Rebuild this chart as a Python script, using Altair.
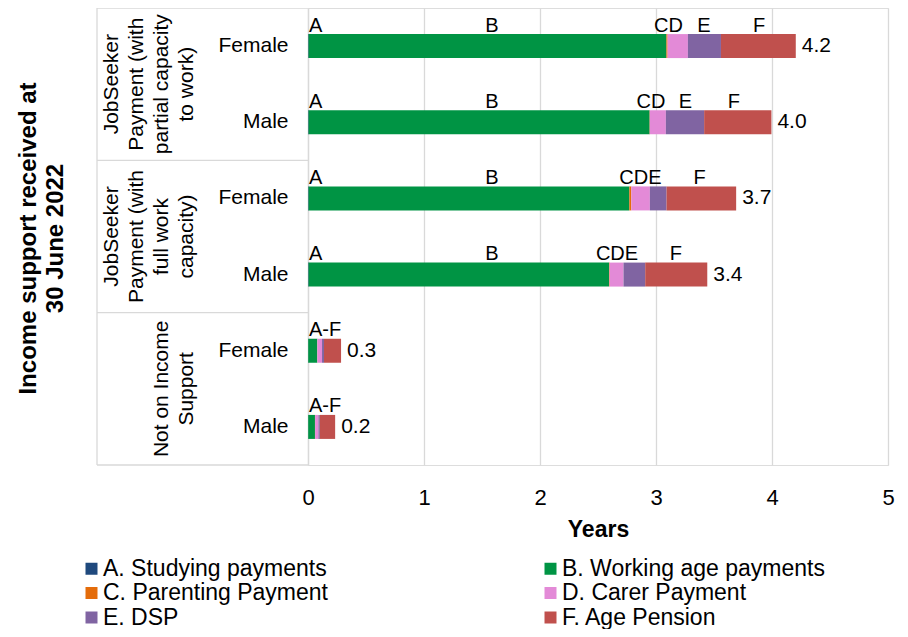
import altair as alt
import pandas as pd

FONT = "Liberation Sans"

groups = [
    "JobSeeker Payment (with partial capacity to work)",
    "JobSeeker Payment (with full work capacity)",
    "Not on Income Support",
]
group_lines = [
    "JobSeeker|Payment (with|partial capacity|to work)",
    "JobSeeker|Payment (with|full work|capacity)",
    "Not on Income|Support",
]
sexes = ["Female", "Male"]
series = [
    "A. Studying payments",
    "B. Working age payments",
    "C. Parenting Payment",
    "D. Carer Payment",
    "E. DSP",
    "F. Age Pension",
]
colors = ["#1F497D", "#009444", "#E46C0A", "#E38AD7", "#8064A2", "#C0504D"]

# rows: partial F, partial M, full F, full M, none F, none M  (years)
A = [0.005, 0.005, 0.005, 0.005, 0.002, 0.002]
B = [3.085, 2.940, 2.765, 2.590, 0.078, 0.058]
C = [0.010, 0.002, 0.017, 0.005, 0.001, 0.001]
D = [0.175, 0.138, 0.160, 0.120, 0.040, 0.029]
E = [0.285, 0.330, 0.144, 0.187, 0.017, 0.012]
F = [0.645, 0.580, 0.600, 0.535, 0.147, 0.132]

# segment letter labels (text, position in years) per row
label_text = [
    ["A", "B", "CD", "E", "F"],
    ["A", "B", "CD", "E", "F"],
    ["A", "B", "CDE", "F"],
    ["A", "B", "CDE", "F"],
    ["A-F"],
    ["A-F"],
]
label_pos = [
    [0.0, 1.586, 3.108, 3.414, 3.888],
    [0.0, 1.586, 2.957, 3.254, 3.672],
    [0.0, 1.586, 2.866, 3.375],
    [0.0, 1.586, 2.664, 3.172],
    [0.0],
    [0.0],
]

keys = [f"{g}|{s}" for g in groups for s in sexes]
vals = [A, B, C, D, E, F]

rows = []
for i, k in enumerate(keys):
    for j, s in enumerate(series):
        rows.append({"key": k, "series": s, "order": j, "value": vals[j][i]})
df = pd.DataFrame(rows)

lab_rows = []
for i, k in enumerate(keys):
    for t, p in zip(label_text[i], label_pos[i]):
        lab_rows.append({"key": k, "label": t, "pos": p, "al": "left" if p == 0 else "center"})
lab = pd.DataFrame(lab_rows)

grp_df = pd.DataFrame({
    "key": [f"{g}|Male" for g in groups],
    "label": group_lines,
    "n": [len(s.split("|")) for s in group_lines],
})
top_df = pd.DataFrame({"key": [f"{g}|Female" for g in groups]})
bot_df = pd.DataFrame({"key": [keys[-1]]})

# legend laid out column-major in 2 columns -> A,C,E | B,D,F
legend_order = [series[0], series[2], series[4], series[1], series[3], series[5]]
legend_colors = [colors[0], colors[2], colors[4], colors[1], colors[3], colors[5]]

W, H = 580, 457
xscale = alt.Scale(domain=[0, 5], nice=False, zero=True)
yscale = alt.Scale(domain=keys, paddingInner=0, paddingOuter=0)
GRID = "#D9D9D9"

xaxis = alt.Axis(
    title="Years",
    values=[0, 1, 2, 3, 4, 5],
    format="d",
    grid=True,
    gridColor=GRID,
    gridWidth=1.3,
    domain=False,
    ticks=False,
    labelFlush=False,
    labelFontSize=22,
    labelPadding=22,
    labelColor="#000",
    titleFontSize=23,
    titleFontWeight="bold",
    titleColor="#000",
    titlePadding=10,
)
yaxis = alt.Axis(
    title=None,
    labelExpr="split(datum.value, '|')[1]",
    ticks=False,
    domain=True,
    domainColor=GRID,
    domainWidth=1.3,
    labelFontSize=21,
    labelPadding=20,
    labelColor="#000",
    grid=False,
)

bars = alt.Chart(df).mark_bar(size=24).encode(
    x=alt.X("value:Q", stack="zero", scale=xscale, axis=xaxis),
    y=alt.Y("key:N", scale=yscale, sort=keys, axis=yaxis),
    color=alt.Color(
        "series:N",
        scale=alt.Scale(domain=legend_order, range=legend_colors),
        legend=alt.Legend(
            title=None,
            orient="none",
            legendX=-228,
            legendY=549,
            columns=2,
            symbolType="square",
            symbolSize=144,
            symbolStrokeWidth=0,
            labelFontSize=23,
            labelColor="#000",
            labelLimit=500,
            labelOffset=0,
            columnPadding=210,
            rowPadding=0.5,
            padding=0,
        ),
    ),
    order=alt.Order("order:Q"),
)

ydef = dict(scale=yscale, sort=keys, axis=yaxis)

totals = alt.Chart(df).mark_text(
    align="left", baseline="middle", dx=6, fontSize=21, font=FONT, color="#000"
).encode(
    x=alt.X("sum(value):Q", scale=xscale, axis=xaxis),
    y=alt.Y("key:N", **ydef),
    text=alt.Text("sum(value):Q", format=".1f"),
)

lab_left = alt.Chart(lab).transform_filter("datum.al == 'left'").mark_text(
    align="left", baseline="alphabetic", dy=-14.5, dx=1, fontSize=20, font=FONT, color="#000"
).encode(
    x=alt.X("pos:Q", scale=xscale, axis=xaxis),
    y=alt.Y("key:N", **ydef),
    text="label:N",
)
lab_center = alt.Chart(lab).transform_filter("datum.al == 'center'").mark_text(
    align="center", baseline="alphabetic", dy=-14.5, fontSize=20, font=FONT, color="#000"
).encode(
    x=alt.X("pos:Q", scale=xscale, axis=xaxis),
    y=alt.Y("key:N", **ydef),
    text="label:N",
)

grp4 = alt.Chart(grp_df).transform_filter("datum.n == 4").mark_text(
    angle=270, align="center", baseline="middle", lineBreak="|", lineHeight=25,
    fontSize=21, font=FONT, color="#000"
).encode(
    x=alt.value(-196),
    y=alt.Y("key:N", bandPosition=0, **ydef),
    text="label:N",
)
grp2 = alt.Chart(grp_df).transform_filter("datum.n == 2").mark_text(
    angle=270, align="center", baseline="middle", lineBreak="|", lineHeight=25,
    fontSize=21, font=FONT, color="#000"
).encode(
    x=alt.value(-146),
    y=alt.Y("key:N", bandPosition=0, **ydef),
    text="label:N",
)

top_rules = alt.Chart(top_df).mark_rule(color=GRID, strokeWidth=1.3).encode(
    x=alt.value(-211), x2=alt.value(0),
    y=alt.Y("key:N", bandPosition=0, **ydef),
)
bot_rule = alt.Chart(bot_df).mark_rule(color=GRID, strokeWidth=1.3).encode(
    x=alt.value(-211), x2=alt.value(0),
    y=alt.Y("key:N", bandPosition=1, **ydef),
)
left_rule = alt.Chart(bot_df).mark_rule(color=GRID, strokeWidth=1.3).encode(
    x=alt.value(-211), y=alt.value(0), y2=alt.value(H),
)

ytitle = alt.Chart(pd.DataFrame({"t": ["Income support received at|30 June 2022"]})).mark_text(
    angle=270, align="center", baseline="middle", lineBreak="|", lineHeight=27,
    fontSize=24, fontWeight="bold", font=FONT, color="#000"
).encode(
    x=alt.value(-279), y=alt.value(H / 2 + 2), text="t:N"
)

chart = alt.layer(
    bars, top_rules, bot_rule, left_rule, totals, lab_left, lab_center, grp4, grp2, ytitle
).properties(
    width=W,
    height=H,
    autosize=alt.AutoSizeParams(type="none"),
    padding={"left": 300, "top": 0, "right": 12, "bottom": 164},
).configure_view(stroke=None).configure(font=FONT)

chart.save("out.html", embed_options={"renderer": "svg", "actions": False})
